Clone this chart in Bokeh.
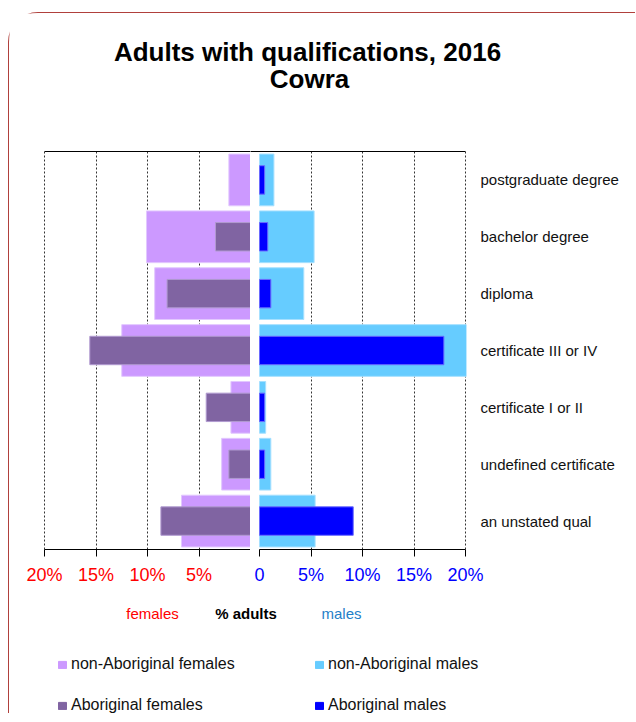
from bokeh.plotting import figure
from bokeh.layouts import column, row
from bokeh.models import (Range1d, FactorRange, FixedTicker, LinearAxis, Label,
                          Legend, LegendItem, ColumnDataSource, Grid)
from bokeh.embed import file_html
from bokeh.resources import INLINE

# ---------------- data ----------------
categories = ["postgraduate degree", "bachelor degree", "diploma",
              "certificate III or IV", "certificate I or II",
              "undefined certificate", "an unstated qual"]
non_abor_females = [2.1, 10.1, 9.3, 12.5, 1.9, 2.8, 6.7]
abor_females = [0.0, 3.4, 8.1, 15.6, 4.3, 2.1, 8.7]
non_abor_males = [1.4, 5.3, 4.3, 20.2, 0.6, 1.1, 5.4]
abor_males = [0.5, 0.8, 1.1, 17.9, 0.5, 0.5, 9.1]

female_ticks = [20, 15, 10, 5]
female_tick_labels = ["20%", "15%", "10%", "5%"]
male_ticks = [0, 5, 10, 15, 20]
male_tick_labels = ["0", "5%", "10%", "15%", "20%"]
grid_ticks = [5, 10, 15, 20]

title_lines = ["Adults with qualifications, 2016", "Cowra"]
series_names = ["non-Aboriginal females", "Aboriginal females",
                "non-Aboriginal males", "Aboriginal males"]
series_colors = ["#cc99ff", "#8064a2", "#66ccff", "#0000ff"]
series_edges = ["#e2c8ff", "#b09ad0", "#a6e0ff", "#6a6aff"]

# ---------------- layout constants ----------------
XMAX = 20
FRAME_W = 206
GAP_PX = 9
px = XMAX / FRAME_W          # data units per pixel
gap = GAP_PX * px
pad = 1 * px                 # 1px extra so the 20% gridlines stay visible
TXT = "Liberation Sans"
FULL_W = 626

source = ColumnDataSource(dict(cat=categories, naf=non_abor_females, af=abor_females,
                               nam=non_abor_males, am=abor_males))
y_range = FactorRange(factors=categories[::-1])

common = dict(output_backend="svg", toolbar_location=None, y_range=y_range,
              height=477, min_border_top=38, min_border_bottom=41,
              x_axis_location=None, outline_line_color=None)

pf = figure(width=241, x_range=Range1d(XMAX + pad, 0), y_axis_location=None,
            min_border_left=34, min_border_right=0, **common)
pm = figure(width=FULL_W - 241, x_range=Range1d(-gap, XMAX + pad), y_axis_location="right",
            min_border_left=0, min_border_right=FULL_W - 241 - 216, **common)


def style_panel(p, ticks, labels, color, top_bounds):
    p.grid.visible = False
    p.add_layout(Grid(dimension=0, ticker=FixedTicker(ticks=grid_ticks),
                      grid_line_color="#333333", grid_line_dash="2 2",
                      grid_line_width=1))
    top = LinearAxis(ticker=FixedTicker(ticks=[]), major_label_text_font_size="0px",
                     major_tick_out=0, major_tick_in=0, minor_tick_out=0,
                     minor_tick_in=0, axis_line_color="black", axis_line_width=1,
                     bounds=top_bounds)
    p.add_layout(top, "above")
    ax = LinearAxis(ticker=FixedTicker(ticks=ticks),
                    major_label_overrides=dict(zip(ticks, labels)),
                    bounds=(0, XMAX), axis_line_color="black", axis_line_width=1.2,
                    major_tick_line_color="black", major_tick_out=7, major_tick_in=0,
                    minor_tick_out=0, minor_tick_in=0, major_label_standoff=8,
                    major_label_text_color=color, major_label_text_font=TXT,
                    major_label_text_font_size="18px")
    p.add_layout(ax, "below")


style_panel(pf, female_ticks, female_tick_labels, "#ff0000", (0, XMAX))
style_panel(pm, male_ticks, male_tick_labels, "#0000ff", (-gap, XMAX))

pf.hbar(y="cat", left=0, right="naf", height=0.91, source=source,
        fill_color=series_colors[0], line_color=series_edges[0])
pf.hbar(y="cat", left=0, right="af", height=0.5, source=source,
        fill_color=series_colors[1], line_color=series_edges[1])
pm.hbar(y="cat", left=0, right="nam", height=0.91, source=source,
        fill_color=series_colors[2], line_color=series_edges[2])
pm.hbar(y="cat", left=0, right="am", height=0.5, source=source,
        fill_color=series_colors[3], line_color=series_edges[3])

pm.yaxis.axis_line_color = None
pm.yaxis.major_tick_out = 0
pm.yaxis.major_tick_in = 0
pm.yaxis.minor_tick_out = 0
pm.yaxis.major_label_standoff = 14
pm.yaxis.major_label_text_font = TXT
pm.yaxis.major_label_text_font_size = "15px"
pm.yaxis.major_label_text_color = "#111111"

# ---------------- header (title) ----------------
blank = dict(output_backend="svg", toolbar_location=None, x_axis_location=None,
             y_axis_location=None, min_border=0, outline_line_color=None,
             x_range=Range1d(0, 1), y_range=Range1d(0, 1))
ph = figure(width=FULL_W, height=100, **blank)
ph.grid.visible = False
ph.add_layout(Label(x=298, y=62, x_units="screen", y_units="screen", text=title_lines[0],
                    text_align="center", text_baseline="alphabetic", text_font=TXT,
                    text_font_size="26px", text_font_style="bold", text_color="black"))
ph.add_layout(Label(x=300, y=35, x_units="screen", y_units="screen", text=title_lines[1],
                    text_align="center", text_baseline="alphabetic", text_font=TXT,
                    text_font_size="26px", text_font_style="bold", text_color="black"))

# ---------------- footer (axis caption + legend) ----------------
pb = figure(width=FULL_W, height=123, **blank)
pb.grid.visible = False
for txt, xx, col, st in [("females", 143, "#ff0000", "normal"),
                         ("% adults", 236.5, "black", "bold"),
                         ("males", 332, "#1f80c8", "normal")]:
    pb.add_layout(Label(x=xx, y=100, x_units="screen", y_units="screen", text=txt,
                        text_align="center", text_baseline="alphabetic", text_font=TXT,
                        text_font_size="15px", text_font_style=st, text_color=col))

nan = float("nan")
dummies = []
for c in series_colors:
    dummies.append(pb.hbar(y=[nan], right=[nan], left=[nan], height=1,
                           fill_color=c, line_color=c))

leg_style = dict(orientation="vertical", glyph_width=10, glyph_height=9, label_standoff=4,
                 padding=0, margin=0, spacing=21, border_line_color=None,
                 background_fill_alpha=0, label_text_font=TXT, label_text_font_size="16px",
                 label_text_color="#111111", label_height=20)
leg1 = Legend(items=[LegendItem(label=series_names[0], renderers=[dummies[0]]),
                     LegendItem(label=series_names[1], renderers=[dummies[1]])],
              location=(48, -2), **leg_style)
leg2 = Legend(items=[LegendItem(label=series_names[2], renderers=[dummies[2]]),
                     LegendItem(label=series_names[3], renderers=[dummies[3]])],
              location=(305, -2), **leg_style)
pb.add_layout(leg1)
pb.add_layout(leg2)

layout = column(ph, row(pf, pm), pb,
                styles={"border-top": "1px solid #b0403c", "border-left": "1px solid #b0403c",
                        "border-top-left-radius": "30px", "position": "relative",
                        "top": "12px", "left": "8px"})

open("out.html", "w").write(file_html(layout, INLINE))
